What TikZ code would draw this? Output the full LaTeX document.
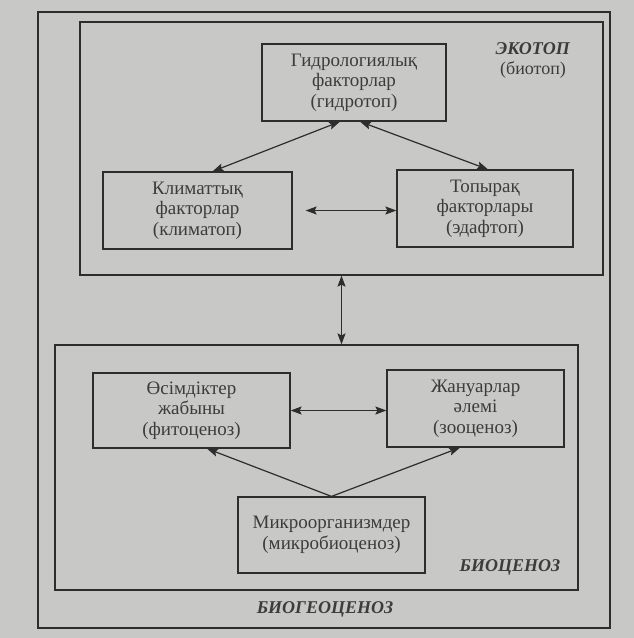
\documentclass[tikz,border=0pt]{standalone}
\usepackage{fontspec}
\setmainfont{Liberation Serif}
\usetikzlibrary{arrows.meta}
\definecolor{paper}{RGB}{200,200,198}
\definecolor{ink}{RGB}{45,45,45}
\definecolor{txt}{RGB}{60,60,60}
\tikzset{
  box/.style={draw=ink, line width=1.2pt, rectangle, inner sep=0pt, align=center,
    text=txt, font=\fontsize{19}{20.5}\selectfont},
  frame/.style={draw=ink, line width=1.2pt, rectangle, inner sep=0pt},
  lbl/.style={text=txt, font=\fontsize{18}{20}\selectfont, inner sep=0pt, align=center},
  tip/.style={},
  biarrow/.style={draw=ink, line width=1.2pt, {Stealth[length=11pt,width=8pt,inset=2pt]}-{Stealth[length=11pt,width=8pt,inset=2pt]}},
  onearrow/.style={draw=ink, line width=1.2pt, -{Stealth[length=11pt,width=8pt,inset=2pt]}}
}
\begin{document}
\begin{tikzpicture}[x=1pt,y=-1pt]
\fill[paper] (0,0) rectangle (634,638);
\useasboundingbox (0,0) rectangle (634,638);
% frames
\node[frame, minimum width=572pt, minimum height=616pt] (outer) at (324,320) {};
\node[frame, minimum width=523pt, minimum height=253pt] (ekotop) at (341.5,148.5) {};
\node[frame, minimum width=523pt, minimum height=245pt] (biocenoz) at (316.5,467.5) {};
% boxes
\node[box, minimum width=184pt, minimum height=77pt] (hyd) at (354,82.5) {Гидрологиялық\\факторлар\\(гидротоп)};
\node[box, minimum width=189pt, minimum height=77pt] (klim) at (197.5,210.5) {Климаттық\\факторлар\\(климатоп)};
\node[box, minimum width=176pt, minimum height=77pt] (top) at (485,208.5) {Топырақ\\факторлары\\(эдафтоп)};
\node[box, minimum width=197pt, minimum height=75pt] (osim) at (191.5,410.5) {Өсімдіктер\\жабыны\\(фитоценоз)};
\node[box, minimum width=177pt, minimum height=77pt] (jan) at (475.5,408.5) {Жануарлар\\әлемі\\(зооценоз)};
\node[box, minimum width=187pt, minimum height=76pt] (mikro) at (331.5,535) {Микроорганизмдер\\(микробиоценоз)};
% labels
\node[lbl] (ekolbl) at (533,60) {\textbf{\textit{ЭКОТОП}}\\(биотоп)};
\node[lbl] (biolbl) at (510,567) {\textbf{\textit{БИОЦЕНОЗ}}};
\node[lbl] (bgclbl) at (325,609) {\textbf{\textit{БИОГЕОЦЕНОЗ}}};
% connectors
\draw[biarrow] ([xshift=-14pt]hyd.south) -- ([xshift=15pt]klim.north);
\draw[biarrow] ([xshift=6pt]hyd.south) -- ([xshift=3pt]top.north);
\draw[biarrow] ([xshift=13pt]klim.east) -- (klim.east -| top.west);
\draw[biarrow] (ekotop.south) -- (ekotop.south |- biocenoz.north);
\draw[biarrow] (osim.east) -- (osim.east -| jan.west);
\draw[onearrow] (mikro.north) -- ([xshift=15.5pt]osim.south);
\draw[onearrow] (mikro.north) -- ([xshift=-15.5pt]jan.south);
\end{tikzpicture}
\end{document}
